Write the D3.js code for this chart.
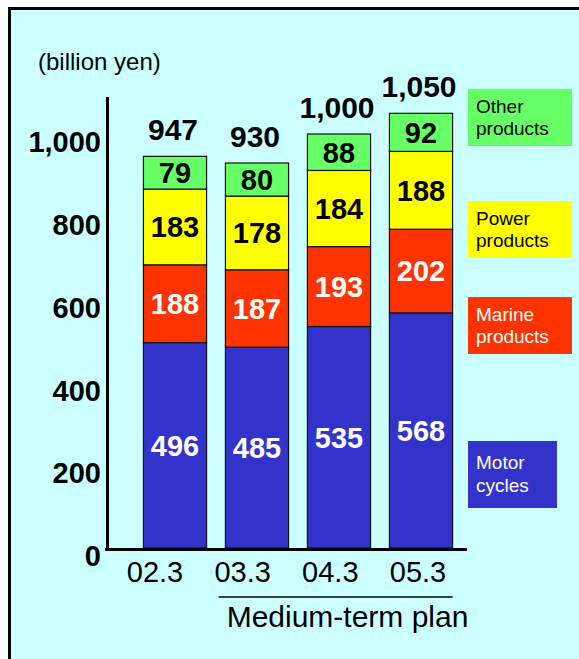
<!DOCTYPE html>
<html>
<head>
<meta charset="utf-8">
<script src="https://cdn.jsdelivr.net/npm/d3@7"></script>
<style>
  body { margin: 0; background: #fff; }
  svg { display: block; font-family: 'Liberation Sans', Arial, sans-serif; }
</style>
</head>
<body>
<div id="chart"></div>
<script>
// values (billion yen)
const years = ['02.3', '03.3', '04.3', '05.3'];
const motorCycles = [496, 485, 535, 568];
const marineProducts = [188, 187, 193, 202];
const powerProducts = [183, 178, 184, 188];
const otherProducts = [79, 80, 88, 92];
const totals = [947, 930, 1000, 1050];
const yTicks = [0, 200, 400, 600, 800, 1000];

const series = [
  { key: 'motor', name: ['Motor', 'cycles'], values: motorCycles, fill: '#3333cc', text: '#fff' },
  { key: 'marine', name: ['Marine', 'products'], values: marineProducts, fill: '#ff3300', text: '#fff' },
  { key: 'power', name: ['Power', 'products'], values: powerProducts, fill: '#ffff00', text: '#000' },
  { key: 'other', name: ['Other', 'products'], values: otherProducts, fill: '#66ff66', text: '#000' },
];

const rows = years.map((year, i) => {
  const row = { year, total: totals[i] };
  series.forEach(s => { row[s.key] = s.values[i]; });
  return row;
});

const width = 579;
const height = 659;

const svg = d3.select('#chart').append('svg')
  .attr('width', width)
  .attr('height', height);

// slide panel
svg.append('rect')
  .attr('x', 9.5)
  .attr('y', 8.5)
  .attr('width', 620)
  .attr('height', 700)
  .attr('fill', '#ccffff')
  .attr('stroke', '#000')
  .attr('stroke-width', 3);

const xScale = d3.scaleBand()
  .domain(years)
  .range([134, 462])
  .paddingInner(0.23)
  .paddingOuter(0.115);

// category labels sit a little left of the bars on the slide
const xLabel = d3.scalePoint()
  .domain(years)
  .range([155, 418]);

const yScale = d3.scaleLinear()
  .domain([0, 1000])
  .range([548, 134]);

const stack = d3.stack().keys(series.map(s => s.key));
const layers = stack(rows);

svg.append('text')
  .attr('x', 38)
  .attr('y', 70)
  .attr('font-size', '24px')
  .attr('fill', '#000')
  .text('(billion yen)');

// y tick labels
svg.append('g')
  .selectAll('text')
  .data(yTicks)
  .join('text')
  .attr('x', 101)
  .attr('y', d => yScale(d) + 8)
  .attr('dy', '0.35em')
  .attr('text-anchor', 'end')
  .attr('font-size', '29px')
  .attr('font-weight', 'bold')
  .text(d3.format(','));

// stacked bars
const layerG = svg.append('g')
  .selectAll('g')
  .data(layers)
  .join('g')
  .attr('fill', (d, i) => series[i].fill);

layerG.selectAll('rect')
  .data(d => d)
  .join('rect')
  .attr('x', d => xScale(d.data.year))
  .attr('y', d => yScale(d[1]))
  .attr('width', xScale.bandwidth())
  .attr('height', d => yScale(d[0]) - yScale(d[1]))
  .attr('stroke', '#111')
  .attr('stroke-width', 1.2);

// segment values
layerG.each(function (layer, i) {
  d3.select(this).selectAll('text')
    .data(layer)
    .join('text')
    .attr('x', d => xScale(d.data.year) + xScale.bandwidth() / 2)
    .attr('y', d => (yScale(d[0]) + yScale(d[1])) / 2)
    .attr('dy', '0.36em')
    .attr('text-anchor', 'middle')
    .attr('font-size', '29px')
    .attr('font-weight', 'bold')
    .attr('fill', series[i].text)
    .text(d => d.data[layer.key]);
});

// totals above bars
svg.append('g')
  .selectAll('text')
  .data(rows)
  .join('text')
  .attr('x', d => xScale(d.year) + xScale.bandwidth() / 2 - 2)
  .attr('y', d => yScale(d.total) - 16)
  .attr('text-anchor', 'middle')
  .attr('font-size', '30px')
  .attr('font-weight', 'bold')
  .text(d => d3.format(',')(d.total));

// axis lines
svg.append('line')
  .attr('x1', 107.5)
  .attr('x2', 107.5)
  .attr('y1', yScale(1000) - 37)
  .attr('y2', yScale(0) + 3)
  .attr('stroke', '#000')
  .attr('stroke-width', 3);

svg.append('line')
  .attr('x1', 105)
  .attr('x2', xScale.range()[1] + 5)
  .attr('y1', yScale(0) + 1.5)
  .attr('y2', yScale(0) + 1.5)
  .attr('stroke', '#000')
  .attr('stroke-width', 3);

// x labels
svg.append('g')
  .selectAll('text')
  .data(years)
  .join('text')
  .attr('x', d => xLabel(d))
  .attr('y', 582)
  .attr('text-anchor', 'middle')
  .attr('font-size', '29px')
  .text(d => d);

// medium-term plan bracket
const planX1 = xLabel(years[1]) - 24;
const planX2 = xScale(years[3]) + xScale.bandwidth();
svg.append('line')
  .attr('x1', planX1)
  .attr('x2', planX2)
  .attr('y1', 597)
  .attr('y2', 597)
  .attr('stroke', '#000')
  .attr('stroke-width', 1.5);

svg.append('text')
  .attr('x', planX1 + 8)
  .attr('y', 627)
  .attr('font-size', '30px')
  .text('Medium-term plan');

// legend boxes on the right
const legendLayout = {
  other: { y: 89, w: 104, h: 57 },
  power: { y: 201, w: 104, h: 57 },
  marine: { y: 297, w: 104, h: 57 },
  motor: { y: 441, w: 89, h: 67 },
};

const legend = svg.append('g')
  .selectAll('g')
  .data(series)
  .join('g')
  .attr('transform', d => `translate(468, ${legendLayout[d.key].y})`);

legend.append('rect')
  .attr('width', d => legendLayout[d.key].w)
  .attr('height', d => legendLayout[d.key].h)
  .attr('fill', d => d.fill);

// two-line label as one text element
legend.each(function (d) {
  const box = legendLayout[d.key];
  const lineH = d.key === 'motor' ? 23 : 22;
  const first = box.h / 2 - lineH / 2 + 6;
  d3.select(this).append('text')
    .attr('font-size', '19px')
    .attr('fill', d.text)
    .selectAll('tspan')
    .data(d.name)
    .join('tspan')
    .attr('x', 8)
    .attr('y', (t, j) => first + j * lineH)
    .text(t => t);
});
</script>
</body>
</html>
